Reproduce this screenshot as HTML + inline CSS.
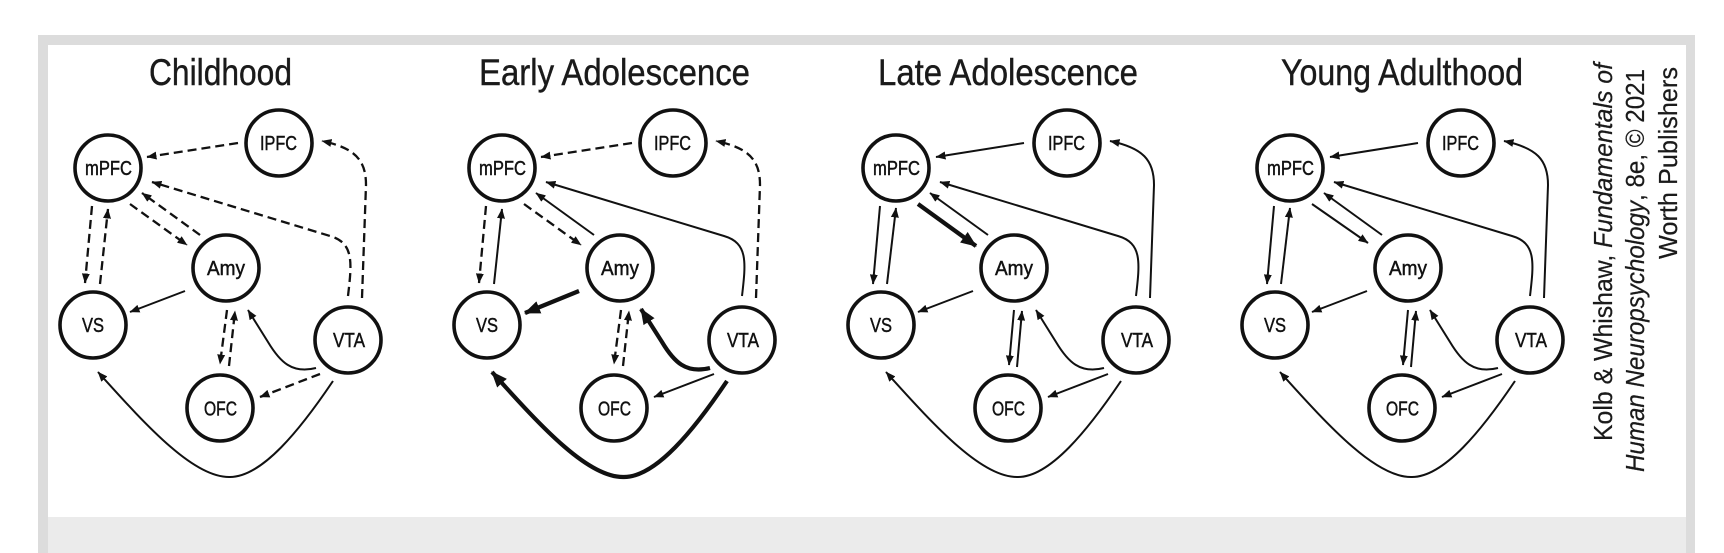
<!DOCTYPE html>
<html><head><meta charset="utf-8"><style>
html,body{margin:0;padding:0;background:#fff;width:1724px;height:553px;overflow:hidden}
svg{display:block}
.d{fill:none;stroke:#111;stroke-width:2.3;stroke-dasharray:9 5;marker-end:url(#a)}
.s{fill:none;stroke:#111;stroke-width:2;marker-end:url(#a)}
.t{fill:none;stroke:#111;stroke-width:4.2;marker-end:url(#b)}
.n{fill:#fff;stroke:#111;stroke-width:3.6}
.l{font-family:"Liberation Sans",sans-serif;font-size:20px;fill:#111;stroke:#111;stroke-width:0.45}
.h{font-family:"Liberation Sans",sans-serif;font-size:37px;fill:#1a1a1a;stroke:#1a1a1a;stroke-width:0.4}
.c{font-family:"Liberation Sans",sans-serif;font-size:26px;fill:#1a1a1a;stroke:#1a1a1a;stroke-width:0.2}
</style></head><body>
<svg width="1724" height="553" viewBox="0 0 1724 553" xmlns="http://www.w3.org/2000/svg">
<defs>
<marker id="a" viewBox="0 0 10 8" refX="9.5" refY="4" markerWidth="10" markerHeight="8" markerUnits="userSpaceOnUse" orient="auto"><path d="M0,0 L10,4 L0,8 z" fill="#111"/></marker>
<marker id="b" viewBox="0 0 16 13" refX="15" refY="6.5" markerWidth="16" markerHeight="13" markerUnits="userSpaceOnUse" orient="auto"><path d="M0,0 L16,6.5 L0,13 z" fill="#111"/></marker>
</defs>
<rect x="38" y="35" width="1657" height="518" fill="#dcdcdc"/>
<rect x="48" y="45" width="1638" height="472" fill="#fff"/>
<rect x="48" y="517" width="1638" height="36" fill="#ebebeb"/>

<!-- Titles -->
<text class="h" x="149" y="85" textLength="143" lengthAdjust="spacingAndGlyphs">Childhood</text>
<text class="h" x="479" y="85" textLength="271" lengthAdjust="spacingAndGlyphs">Early Adolescence</text>
<text class="h" x="878" y="85" textLength="260" lengthAdjust="spacingAndGlyphs">Late Adolescence</text>
<text class="h" x="1281" y="85" textLength="242" lengthAdjust="spacingAndGlyphs">Young Adulthood</text>

<!-- Panel 1: Childhood -->
<g>
<path class="d" d="M238,143 L147,157"/>
<path class="d" d="M362,298 L366,185 C366,160 355,148 322,141"/>
<path class="d" d="M348,296 C352,262 354,243 330,236 L152,182"/>
<path class="d" d="M130,204 L187,245"/>
<path class="d" d="M200,235 L142,193"/>
<path class="d" d="M92,206 L85,283"/>
<path class="d" d="M100,284 L108,209"/>
<path class="s" d="M185,291 L130,312"/>
<path class="d" d="M227,310 L220,364"/>
<path class="d" d="M229,366 L235,311"/>
<path class="s" d="M316,368 C292,374 280,362 268,342 L248,310"/>
<path class="d" d="M320,374 L260,397"/>
<path class="s" d="M333,381 C300,430 262,477 230,477 C195,478 150,430 98,372"/>
<circle class="n" cx="108" cy="168" r="33"/>
<circle class="n" cx="279" cy="143" r="33"/>
<circle class="n" cx="226" cy="268" r="33"/>
<circle class="n" cx="93" cy="325" r="33"/>
<circle class="n" cx="348" cy="340" r="33"/>
<circle class="n" cx="220" cy="408" r="33"/>
<text class="l" x="85" y="175" textLength="47" lengthAdjust="spacingAndGlyphs">mPFC</text>
<text class="l" x="260" y="150" textLength="37" lengthAdjust="spacingAndGlyphs">IPFC</text>
<text class="l" x="207" y="275" textLength="38" lengthAdjust="spacingAndGlyphs">Amy</text>
<text class="l" x="82" y="332" textLength="22" lengthAdjust="spacingAndGlyphs">VS</text>
<text class="l" x="333" y="347" textLength="32" lengthAdjust="spacingAndGlyphs">VTA</text>
<text class="l" x="204" y="415.5" textLength="33" lengthAdjust="spacingAndGlyphs">OFC</text>
</g>

<!-- Panel 2: Early Adolescence -->
<g transform="translate(394,0)">
<path class="d" d="M238,143 L147,157"/>
<path class="d" d="M362,298 L366,185 C366,160 355,148 322,141"/>
<path class="s" d="M348,296 C352,262 354,243 330,236 L152,182"/>
<path class="d" d="M130,204 L187,245"/>
<path class="s" d="M200,235 L142,193"/>
<path class="d" d="M92,206 L85,283"/>
<path class="s" d="M100,284 L108,209"/>
<path class="t" d="M185,291 L131,313"/>
<path class="d" d="M227,310 L220,364"/>
<path class="d" d="M229,366 L235,311"/>
<path class="t" d="M316,368 C292,374 280,362 268,342 L247,309"/>
<path class="s" d="M320,374 L260,397"/>
<path class="t" d="M333,381 C300,430 262,477 230,477 C195,478 150,430 98,372"/>
<circle class="n" cx="108" cy="168" r="33"/>
<circle class="n" cx="279" cy="143" r="33"/>
<circle class="n" cx="226" cy="268" r="33"/>
<circle class="n" cx="93" cy="325" r="33"/>
<circle class="n" cx="348" cy="340" r="33"/>
<circle class="n" cx="220" cy="408" r="33"/>
<text class="l" x="85" y="175" textLength="47" lengthAdjust="spacingAndGlyphs">mPFC</text>
<text class="l" x="260" y="150" textLength="37" lengthAdjust="spacingAndGlyphs">IPFC</text>
<text class="l" x="207" y="275" textLength="38" lengthAdjust="spacingAndGlyphs">Amy</text>
<text class="l" x="82" y="332" textLength="22" lengthAdjust="spacingAndGlyphs">VS</text>
<text class="l" x="333" y="347" textLength="32" lengthAdjust="spacingAndGlyphs">VTA</text>
<text class="l" x="204" y="415.5" textLength="33" lengthAdjust="spacingAndGlyphs">OFC</text>
</g>

<!-- Panel 3: Late Adolescence -->
<g transform="translate(788,0)">
<path class="s" d="M236,143 L148,157"/>
<path class="s" d="M362,298 L366,185 C366,160 355,148 322,141"/>
<path class="s" d="M348,296 C352,262 354,243 330,236 L152,182"/>
<path class="t" d="M130,204 L188,246"/>
<path class="s" d="M200,235 L142,193"/>
<path class="s" d="M92,206 L85,284"/>
<path class="s" d="M99,284 L108,208"/>
<path class="s" d="M185,291 L130,312"/>
<path class="s" d="M226,310 L221,365"/>
<path class="s" d="M229,367 L234,311"/>
<path class="s" d="M316,368 C292,374 280,362 268,342 L248,310"/>
<path class="s" d="M320,374 L260,397"/>
<path class="s" d="M333,381 C300,430 262,477 230,477 C195,478 150,430 98,372"/>
<circle class="n" cx="108" cy="168" r="33"/>
<circle class="n" cx="279" cy="143" r="33"/>
<circle class="n" cx="226" cy="268" r="33"/>
<circle class="n" cx="93" cy="325" r="33"/>
<circle class="n" cx="348" cy="340" r="33"/>
<circle class="n" cx="220" cy="408" r="33"/>
<text class="l" x="85" y="175" textLength="47" lengthAdjust="spacingAndGlyphs">mPFC</text>
<text class="l" x="260" y="150" textLength="37" lengthAdjust="spacingAndGlyphs">IPFC</text>
<text class="l" x="207" y="275" textLength="38" lengthAdjust="spacingAndGlyphs">Amy</text>
<text class="l" x="82" y="332" textLength="22" lengthAdjust="spacingAndGlyphs">VS</text>
<text class="l" x="333" y="347" textLength="32" lengthAdjust="spacingAndGlyphs">VTA</text>
<text class="l" x="204" y="415.5" textLength="33" lengthAdjust="spacingAndGlyphs">OFC</text>
</g>

<!-- Panel 4: Young Adulthood -->
<g transform="translate(1182,0)">
<path class="s" d="M236,143 L148,157"/>
<path class="s" d="M362,298 L366,185 C366,160 355,148 322,141"/>
<path class="s" d="M348,296 C352,262 354,243 330,236 L152,182"/>
<path class="s" d="M130,204 L186,243"/>
<path class="s" d="M200,235 L142,193"/>
<path class="s" d="M92,206 L85,284"/>
<path class="s" d="M99,284 L108,208"/>
<path class="s" d="M185,291 L130,312"/>
<path class="s" d="M226,310 L221,365"/>
<path class="s" d="M229,367 L234,311"/>
<path class="s" d="M316,368 C292,374 280,362 268,342 L248,310"/>
<path class="s" d="M320,374 L260,397"/>
<path class="s" d="M333,381 C300,430 262,477 230,477 C195,478 150,430 98,372"/>
<circle class="n" cx="108" cy="168" r="33"/>
<circle class="n" cx="279" cy="143" r="33"/>
<circle class="n" cx="226" cy="268" r="33"/>
<circle class="n" cx="93" cy="325" r="33"/>
<circle class="n" cx="348" cy="340" r="33"/>
<circle class="n" cx="220" cy="408" r="33"/>
<text class="l" x="85" y="175" textLength="47" lengthAdjust="spacingAndGlyphs">mPFC</text>
<text class="l" x="260" y="150" textLength="37" lengthAdjust="spacingAndGlyphs">IPFC</text>
<text class="l" x="207" y="275" textLength="38" lengthAdjust="spacingAndGlyphs">Amy</text>
<text class="l" x="82" y="332" textLength="22" lengthAdjust="spacingAndGlyphs">VS</text>
<text class="l" x="333" y="347" textLength="32" lengthAdjust="spacingAndGlyphs">VTA</text>
<text class="l" x="204" y="415.5" textLength="33" lengthAdjust="spacingAndGlyphs">OFC</text>
</g>

<!-- Credit (rotated) -->
<text class="c" transform="translate(1612,441) rotate(-90)" textLength="378" lengthAdjust="spacingAndGlyphs">Kolb &amp; Whishaw, <tspan font-style="italic">Fundamentals of</tspan></text>
<text class="c" transform="translate(1644,472) rotate(-90)" textLength="403" lengthAdjust="spacingAndGlyphs"><tspan font-style="italic">Human Neuropsychology</tspan>, 8e, © 2021</text>
<text class="c" transform="translate(1677,259) rotate(-90)" textLength="192" lengthAdjust="spacingAndGlyphs">Worth Publishers</text>
</svg>
</body></html>
